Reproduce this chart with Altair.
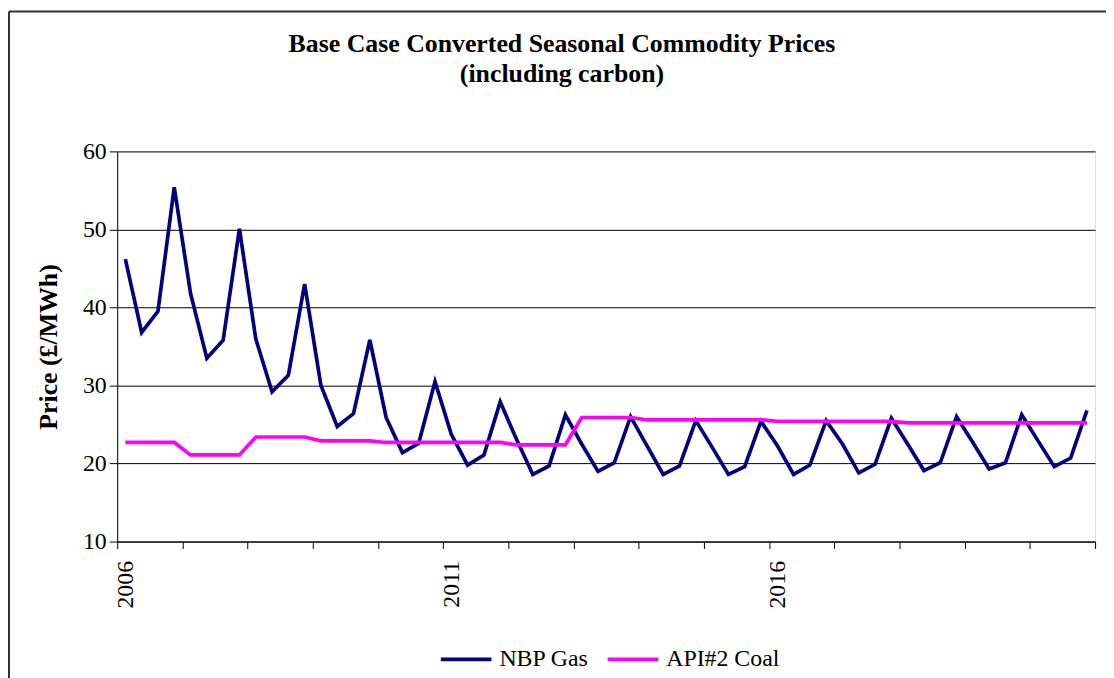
import altair as alt
import pandas as pd

years = list(range(2006, 2021))
quarters = [1, 2, 3, 4]

nbp_gas = [46.2, 36.8, 39.5, 55.4, 41.8, 33.5, 35.8, 50.1, 36.0, 29.2,
           31.3, 43.0, 30.0, 24.75, 26.4, 35.85, 25.9, 21.4, 22.6, 30.5,
           23.75, 19.8, 21.1, 27.9, 23.1, 18.6, 19.7, 26.25, 22.5, 19.0,
           20.1, 26.0, 22.3, 18.6, 19.7, 25.5, 22.1, 18.6, 19.6, 25.4,
           22.3, 18.6, 19.8, 25.5, 22.5, 18.8, 19.9, 25.8, 22.5, 19.1,
           20.1, 26.0, 22.7, 19.3, 20.1, 26.25, 22.9, 19.6, 20.7, 26.8]

api2_coal = [22.7, 22.7, 22.7, 22.7, 21.1, 21.1, 21.1, 21.1,
             23.4, 23.4, 23.4, 23.4, 22.9, 22.9, 22.9, 22.9,
             22.7, 22.7, 22.7, 22.7, 22.7, 22.7, 22.7, 22.7,
             22.4, 22.4, 22.4, 22.4, 25.9, 25.9, 25.9, 25.9,
             25.6, 25.6, 25.6, 25.6, 25.6, 25.6, 25.6, 25.6,
             25.4, 25.4, 25.4, 25.4, 25.4, 25.4, 25.4, 25.4,
             25.2, 25.2, 25.2, 25.2, 25.2, 25.2, 25.2, 25.2,
             25.2, 25.2, 25.2, 25.2]

series_names = ["NBP Gas", "API#2 Coal"]
series_colors = ["#000080", "#FF00FF"]
title_lines = ["Base Case Converted Seasonal Commodity Prices", "(including carbon)"]

periods = [y + (q - 0.5) / 4 for y in years for q in quarters]
rows = []
for name, vals in zip(series_names, [nbp_gas, api2_coal]):
    for t, v in zip(periods, vals):
        rows.append({"t": t, "price": v, "series": name})
df = pd.DataFrame(rows)

W, H = 985, 393
FONT = "Liberation Serif"

lines = alt.Chart(df).mark_line(strokeWidth=3.7).encode(
    x=alt.X("t:Q", scale=alt.Scale(domain=[2006, 2021], nice=False, zero=False),
            axis=alt.Axis(values=list(range(2006, 2022)), grid=False,
                          labelExpr="(datum.value % 5 == 1 && datum.value < 2021) ? datum.value : ''",
                          labelAngle=270, labelAlign="right", labelBaseline="middle",
                          labelOffset=8, labelPadding=12, tickSize=7,
                          labelFontSize=24, labelFont=FONT, labelColor="#000",
                          domainColor="#000", tickColor="#000", title=None)),
    y=alt.Y("price:Q", scale=alt.Scale(domain=[10, 60], nice=False, zero=False),
            axis=alt.Axis(values=[10, 20, 30, 40, 50, 60], grid=True, gridColor="#000",
                          gridWidth=1, tickSize=8, labelPadding=3,
                          labelFontSize=24, labelFont=FONT, labelColor="#000",
                          domainColor="#000", tickColor="#000",
                          title="Price (£/MWh)", titleFont=FONT, titleFontSize=26,
                          titleFontWeight="bold", titleColor="#000", titlePadding=21)),
    color=alt.Color("series:N", sort=series_names,
                    scale=alt.Scale(domain=series_names, range=series_colors),
                    legend=alt.Legend(orient="none", legendX=324, legendY=484,
                                      direction="horizontal", title=None,
                                      symbolType="stroke", symbolSize=2600,
                                      symbolStrokeWidth=3.7, labelFontSize=24,
                                      labelFont=FONT, labelColor="#000",
                                      columnPadding=10, labelOffset=6)),
    order=alt.Order("t:Q"),
)

one = pd.DataFrame({"a": [0]})
border = alt.Chart(one).mark_rule(color="#333", strokeWidth=2).encode(
    x=alt.value(-109), x2=alt.value(W + 40), y=alt.value(-141)
)
border_left = alt.Chart(one).mark_rule(color="#333", strokeWidth=2).encode(
    x=alt.value(-109), y=alt.value(-141), y2=alt.value(H + 140)
)

title_style = dict(font=FONT, fontSize=26, fontWeight="bold", color="#000",
                   align="center", baseline="alphabetic")
t1 = alt.Chart(pd.DataFrame({"txt": [title_lines[0]]})).mark_text(**title_style).encode(
    text="txt:N", x=alt.value(448), y=alt.value(-100)
)
t2 = alt.Chart(pd.DataFrame({"txt": [title_lines[1]]})).mark_text(**title_style).encode(
    text="txt:N", x=alt.value(448), y=alt.value(-70)
)

chart = alt.layer(border, border_left, t1, t2, lines).properties(
    width=W, height=H,
    padding={"left": 110, "top": 142, "right": 11, "bottom": 135},
    autosize=alt.AutoSizeParams(type="none"),
).configure_view(stroke="#888", strokeWidth=1.5).configure(background="white")

chart.save("out.html", embed_options={"renderer": "svg", "actions": False})
